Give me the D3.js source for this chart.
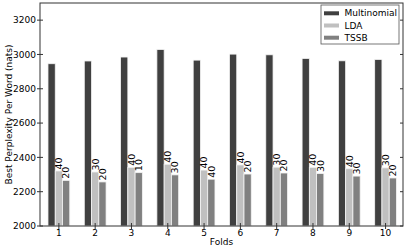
<!DOCTYPE html>
<html>
<head>
<meta charset="utf-8">
<script src="https://cdn.jsdelivr.net/npm/d3@7"></script>
<style>
  body { margin: 0; background: #fff; }
  text { font-family: "DejaVu Sans", sans-serif; }
</style>
</head>
<body>
<div id="chart"></div>
<script>
const width = 407;
const height = 252;

const folds = [1, 2, 3, 4, 5, 6, 7, 8, 9, 10];
const multinomial = [2946, 2962, 2985, 3029, 2967, 3002, 2998, 2977, 2963, 2971];
const lda = [2321, 2315, 2342, 2360, 2326, 2356, 2343, 2342, 2334, 2339];
const tssb = [2266, 2257, 2311, 2298, 2273, 2303, 2309, 2306, 2291, 2280];
const ldaLabels = ["40", "30", "40", "40", "40", "40", "30", "40", "40", "30"];
const tssbLabels = ["20", "20", "10", "30", "40", "20", "20", "30", "30", "20"];
const yTicks = [2000, 2200, 2400, 2600, 2800, 3000, 3200];

const series = [
    { name: "Multinomial", values: multinomial, color: "#404040", labels: null },
    { name: "LDA", values: lda, color: "#c0c0c0", labels: ldaLabels },
    { name: "TSSB", values: tssb, color: "#808080", labels: tssbLabels }
];

const margin = { top: 3, right: 4, bottom: 26, left: 40 };
const plotW = width - margin.left - margin.right;
const plotH = height - margin.top - margin.bottom;

const x = d3.scaleLinear().domain([0.48, 10.48]).range([0, plotW]);
const y = d3.scaleLinear().domain([2000, 3300]).range([plotH, 0]);
const barW = 0.2;

const svg = d3.select("#chart")
    .append("svg")
    .attr("width", width)
    .attr("height", height);

const g = svg.append("g")
    .attr("transform", `translate(${margin.left},${margin.top})`);

// bars
series.forEach((s, k) => {
    const offset = (k - 1) * barW;
    g.selectAll(null)
        .data(s.values)
        .enter()
        .append("rect")
        .attr("x", (d, i) => x(folds[i] + offset - barW / 2))
        .attr("y", d => y(d))
        .attr("width", x(barW) - x(0))
        .attr("height", d => plotH - y(d))
        .attr("fill", s.color)
        .attr("stroke", "#f4f4f4")
        .attr("stroke-width", 0.8);

    if (s.labels) {
        g.selectAll(null)
            .data(s.values)
            .enter()
            .append("text")
            .attr("transform", (d, i) => `translate(${x(folds[i] + offset)},${y(d) - 1.5}) rotate(-90)`)
            .attr("dy", "0.35em")
            .attr("font-size", 9.5)
            .attr("fill", "#000")
            .text((d, i) => s.labels[i]);
    }
});

// frame
g.append("rect")
    .attr("width", plotW)
    .attr("height", plotH)
    .attr("fill", "none")
    .attr("stroke", "#333")
    .attr("stroke-width", 1);

// y ticks
const yt = g.selectAll(".ytick")
    .data(yTicks)
    .enter()
    .append("g")
    .attr("transform", d => `translate(0,${y(d)})`);
yt.append("line").attr("x1", -3).attr("x2", 3).attr("stroke", "#333");
yt.append("line").attr("x1", plotW - 3).attr("x2", plotW).attr("stroke", "#333");
yt.append("text")
    .attr("x", -4)
    .attr("dy", "0.35em")
    .attr("text-anchor", "end")
    .attr("font-size", 9)
    .text(d => d);

// x ticks
const xt = g.selectAll(".xtick")
    .data(folds)
    .enter()
    .append("g")
    .attr("transform", d => `translate(${x(d)},${plotH})`);
xt.append("line").attr("y1", -3).attr("y2", 3).attr("stroke", "#333");
xt.append("text")
    .attr("y", 9.5)
    .attr("text-anchor", "middle")
    .attr("font-size", 9)
    .text(d => d);

// axis titles
svg.append("text")
    .attr("x", margin.left + plotW / 2)
    .attr("y", 245)
    .attr("text-anchor", "middle")
    .attr("font-size", 9)
    .text("Folds");

svg.append("text")
    .attr("transform", `translate(12,${margin.top + plotH / 2}) rotate(-90)`)
    .attr("text-anchor", "middle")
    .attr("font-size", 9)
    .text("Best Perplexity Per Word (nats)");

// legend
const legend = svg.append("g").attr("transform", "translate(321,5)");
legend.append("rect")
    .attr("width", 78)
    .attr("height", 39)
    .attr("fill", "#fff")
    .attr("stroke", "#555")
    .attr("stroke-width", 0.8);
const items = legend.selectAll(".item")
    .data(series)
    .enter()
    .append("g")
    .attr("transform", (d, i) => `translate(0,${8.3 + i * 12.2})`);
items.append("rect")
    .attr("x", 3)
    .attr("y", -2)
    .attr("width", 15)
    .attr("height", 4)
    .attr("fill", d => d.color);
items.append("text")
    .attr("x", 23.5)
    .attr("dy", "0.35em")
    .attr("font-size", 9)
    .text(d => d.name);
</script>
</body>
</html>
